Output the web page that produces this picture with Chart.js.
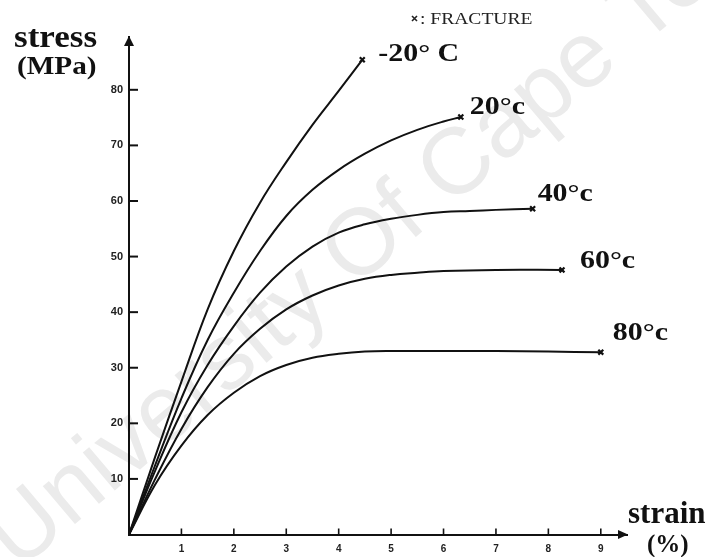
<!DOCTYPE html>
<html>
<head>
<meta charset="utf-8">
<script src="https://cdn.jsdelivr.net/npm/chart.js@4"></script>
<style>
html,body{margin:0;padding:0;background:#fff;}
#wrap{width:716px;height:557px;position:relative;}
</style>
</head>
<body>
<div id="wrap"><canvas id="c" width="716" height="557"></canvas></div>
<script>
// ---- data ----
const seriesNames = ['-20° C', '20°c', '40°c', '60°c', '80°c'];

const strainM20 = [0, 0.5, 1, 1.5, 2, 2.5, 3, 3.5, 4, 4.45];
const stressM20 = [0, 14, 27.5, 40.5, 51, 59.7, 67, 73.7, 79.8, 85.4];

const strain20 = [0, 0.5, 1, 1.5, 2, 2.5, 3, 3.5, 4, 4.5, 5, 5.5, 6, 6.33];
const stress20 = [0, 12.5, 24.5, 35, 43.5, 51, 57.3, 62, 65.6, 68.5, 70.9, 72.8, 74.3, 75.1];

const strain40 = [0, 0.5, 1, 1.5, 2, 2.5, 3, 3.5, 4, 4.5, 5, 5.5, 6, 6.5, 7, 7.7];
const stress40 = [0, 11.5, 22, 30.5, 37.5, 43.5, 48.2, 51.8, 54.3, 55.8, 56.8, 57.5, 58, 58.2, 58.4, 58.6];

const strain60 = [0, 0.5, 1, 1.5, 2, 2.5, 3, 3.5, 4, 4.5, 5, 5.5, 6, 7, 8.26];
const stress60 = [0, 10, 19, 26.5, 32.5, 37, 40.5, 43, 44.8, 46, 46.7, 47.1, 47.4, 47.6, 47.6];

const strain80 = [0, 0.5, 1, 1.5, 2, 2.5, 3, 3.5, 4, 4.5, 5, 6, 7, 8, 9];
const stress80 = [0, 9, 16, 21.5, 25.5, 28.5, 30.5, 31.8, 32.5, 32.9, 33, 33, 33, 32.9, 32.8];

const xTickValues = [1, 2, 3, 4, 5, 6, 7, 8, 9];
const yTickValues = [10, 20, 30, 40, 50, 60, 70, 80];

const xTitle = ['strain', '(%)'];
const yTitle = ['stress', '(MPa)'];
const fractureNote = ': FRACTURE';
const watermark = 'University Of Cape Town';

// ---- styling (kept separate from data) ----
const labelOffsets = [[16, -6], [9, -10], [5, -14], [18, -9], [12, -19]];

const strains = [strainM20, strain20, strain40, strain60, strain80];
const stresses = [stressM20, stress20, stress40, stress60, stress80];

const datasets = seriesNames.map((name, i) => {
  const pts = strains[i].map((x, j) => ({x: x, y: stresses[i][j]}));
  return {
    label: name,
    data: pts,
    borderColor: '#111',
    backgroundColor: '#111',
    borderWidth: 2,
    tension: 0.4,
    pointStyle: 'crossRot',
    pointRadius: pts.map((p, j) => j === pts.length - 1 ? 3.5 : 0),
    pointBorderWidth: 2.2,
    pointHoverRadius: 0,
    clip: false
  };
});

function stretchedText(ctx, text, x, y, sx) {
  ctx.save();
  ctx.translate(x, y);
  ctx.scale(sx, 1);
  ctx.fillText(text, 0, 0);
  ctx.restore();
}

const SERIF = '"Liberation Serif", "Times New Roman", serif';

const deco = {
  id: 'deco',
  beforeDraw(chart) {
    const ctx = chart.ctx;
    ctx.save();
    ctx.fillStyle = '#fff';
    ctx.fillRect(0, 0, chart.width, chart.height);
    ctx.fillStyle = '#ebebeb';
    ctx.font = '94px "Liberation Sans", Arial, sans-serif';
    ctx.translate(18, 572);
    ctx.rotate(-0.70);
    ctx.textBaseline = 'alphabetic';
    ctx.fillText(watermark, 0, 0);
    ctx.restore();
  },
  afterDraw(chart) {
    const ctx = chart.ctx;
    const xs = chart.scales.x, ys = chart.scales.y;
    const a = chart.chartArea;
    ctx.save();
    ctx.strokeStyle = '#111';
    ctx.fillStyle = '#111';
    ctx.lineWidth = 2;
    // inner tick marks
    ys.ticks.forEach(t => {
      const py = ys.getPixelForValue(t.value);
      ctx.beginPath(); ctx.moveTo(a.left, py); ctx.lineTo(a.left + 9, py); ctx.stroke();
    });
    ctx.lineWidth = 1.6;
    xs.ticks.forEach(t => {
      const px = xs.getPixelForValue(t.value);
      ctx.beginPath(); ctx.moveTo(px, a.bottom + 1); ctx.lineTo(px, a.bottom - 6); ctx.stroke();
    });
    // arrow heads
    ctx.beginPath();
    ctx.moveTo(a.left, a.top - 1);
    ctx.lineTo(a.left - 5, a.top + 9);
    ctx.lineTo(a.left + 5, a.top + 9);
    ctx.closePath(); ctx.fill();
    ctx.beginPath();
    ctx.moveTo(a.right + 1, a.bottom);
    ctx.lineTo(a.right - 9, a.bottom - 4.5);
    ctx.lineTo(a.right - 9, a.bottom + 4.5);
    ctx.closePath(); ctx.fill();

    // axis titles
    ctx.fillStyle = '#111';
    ctx.textAlign = 'left';
    ctx.textBaseline = 'alphabetic';
    ctx.font = 'bold 31px ' + SERIF;
    stretchedText(ctx, yTitle[0], 14, 47, 1.13);
    ctx.font = 'bold 25px ' + SERIF;
    stretchedText(ctx, yTitle[1], 17, 74, 1.17);
    ctx.font = 'bold 31px ' + SERIF;
    stretchedText(ctx, xTitle[0], 628, 523, 1.0);
    ctx.font = 'bold 25px ' + SERIF;
    stretchedText(ctx, xTitle[1], 647, 552, 1.0);

    // fracture note
    ctx.lineWidth = 1.6;
    ctx.strokeStyle = '#222';
    ctx.beginPath();
    ctx.moveTo(412, 16); ctx.lineTo(417, 21);
    ctx.moveTo(417, 16); ctx.lineTo(412, 21);
    ctx.stroke();
    ctx.fillStyle = '#222';
    ctx.font = '17px ' + SERIF;
    stretchedText(ctx, fractureNote, 420, 24, 1.15);

    // curve labels at the fracture points
    ctx.fillStyle = '#111';
    ctx.font = 'bold 26px ' + SERIF;
    ctx.textBaseline = 'middle';
    chart.data.datasets.forEach((ds, i) => {
      const meta = chart.getDatasetMeta(i);
      const last = meta.data[meta.data.length - 1];
      const off = labelOffsets[i];
      stretchedText(ctx, ds.label, last.x + off[0], last.y + off[1], 1.15);
    });
    ctx.restore();
  }
};

new Chart(document.getElementById('c'), {
  type: 'line',
  data: {datasets: datasets},
  options: {
    responsive: false,
    devicePixelRatio: 1,
    animation: false,
    events: [],
    layout: {padding: {top: 37, right: 89, left: 0, bottom: 0}},
    plugins: {legend: {display: false}, tooltip: {enabled: false}, title: {display: false}},
    scales: {
      x: {
        type: 'linear', min: 0, max: 9.5,
        afterBuildTicks: s => { s.ticks = xTickValues.map(v => ({value: v})); },
        afterFit: s => { s.height = 22.5; },
        grid: {display: false, drawTicks: false},
        border: {display: true, color: '#111', width: 2},
        ticks: {padding: 9, color: '#222', font: {family: '"Liberation Sans", Arial, sans-serif', size: 10, weight: 'bold'}, maxRotation: 0, autoSkip: false}
      },
      y: {
        type: 'linear', min: 0, max: 89.5,
        afterBuildTicks: s => { s.ticks = yTickValues.map(v => ({value: v})); },
        afterFit: s => { s.width = 129; },
        grid: {display: false, drawTicks: false},
        border: {display: true, color: '#111', width: 2},
        ticks: {padding: 6, color: '#222', font: {family: '"Liberation Sans", Arial, sans-serif', size: 11, weight: 'bold'}, autoSkip: false}
      }
    }
  },
  plugins: [deco]
});
</script>
</body>
</html>
